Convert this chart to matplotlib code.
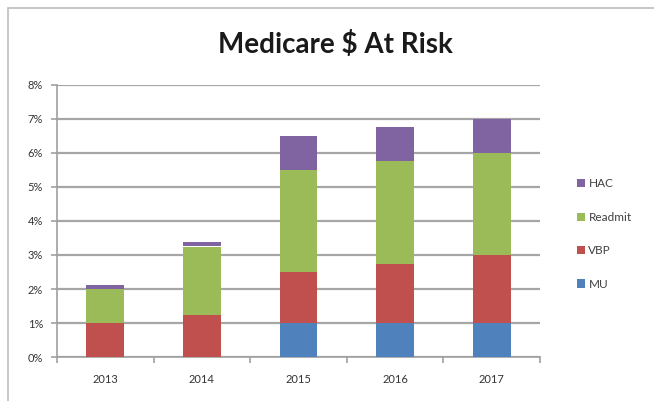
import matplotlib
matplotlib.use('Agg')
import matplotlib.pyplot as plt
from matplotlib.ticker import FuncFormatter, FixedLocator
from matplotlib.patches import Rectangle
import numpy as np

years = ["2013", "2014", "2015", "2016", "2017"]
mu = [0.0, 0.0, 1.0, 1.0, 1.0]
vbp = [1.0, 1.25, 1.5, 1.75, 2.0]
readmit = [1.0, 2.0, 3.0, 3.0, 3.0]
hac = [0.12, 0.12, 1.0, 1.0, 1.0]

series = [("MU", mu, "#4F81BD"), ("VBP", vbp, "#C0504D"),
          ("Readmit", readmit, "#9BBB59"), ("HAC", hac, "#8064A2")]

plt.rcParams['font.family'] = ['Lato', 'DejaVu Sans']

fig = plt.figure(figsize=(6.54, 4.01), dpi=100)
W, H = 654, 401
ax = fig.add_axes([57 / W, 1 - 357 / H, (540 - 57) / W, (357 - 85) / H])

# outer chart frame (only top and left edges show)
fig.patches.append(Rectangle((8 / W, -0.5), 2.0, 1.5 - 8 / H,
                             transform=fig.transFigure, fill=False,
                             edgecolor="#bdbdbd", linewidth=1.2))

x = np.arange(len(years))
bottom = np.zeros(len(years))
handles = []
for name, vals, col in series:
    h = ax.bar(x, vals, width=0.39, bottom=bottom, color=col, label=name, zorder=3)
    handles.append(h)
    bottom = bottom + np.array(vals)

ax.set_xlim(-0.5, len(years) - 0.5)
ax.set_ylim(0, 8)
ax.set_yticks(np.arange(0, 9, 1))
ax.yaxis.set_major_formatter(FuncFormatter(lambda v, p: "%d%%" % v))
ax.set_xticks(x)
ax.set_xticklabels(years)
ax.xaxis.set_minor_locator(FixedLocator(np.arange(-0.5, len(years), 1)))
ax.tick_params(axis="x", which="major", length=0, pad=12, labelsize=8, labelcolor="#333333")
ax.tick_params(axis="x", which="minor", length=4, width=1.2, color="#a0a0a0", direction="out")
ax.tick_params(axis="y", length=4, width=1.2, color="#a0a0a0", labelsize=8,
               labelcolor="#333333", pad=6)

ax.grid(axis="y", color="#a6a6a6", linewidth=1.6, zorder=0)
for s in ["top", "right"]:
    ax.spines[s].set_visible(False)
for s in ["left", "bottom"]:
    ax.spines[s].set_color("#a0a0a0")
    ax.spines[s].set_linewidth(1.2)

fig.text(335 / W, 1 - 44 / H, "Medicare $ At Risk", ha="center", va="center",
         fontsize=20, fontweight="bold", color="#1a1a1a")

leg = fig.legend(handles[::-1], [s[0] for s in series][::-1],
                 loc="center left", bbox_to_anchor=(566 / W, 1 - 234 / H),
                 frameon=False, fontsize=8.5, handlelength=0.7, handleheight=0.7,
                 handletextpad=0.3, labelspacing=1.9, labelcolor="#404040")

fig.savefig("out.png", dpi=100)
